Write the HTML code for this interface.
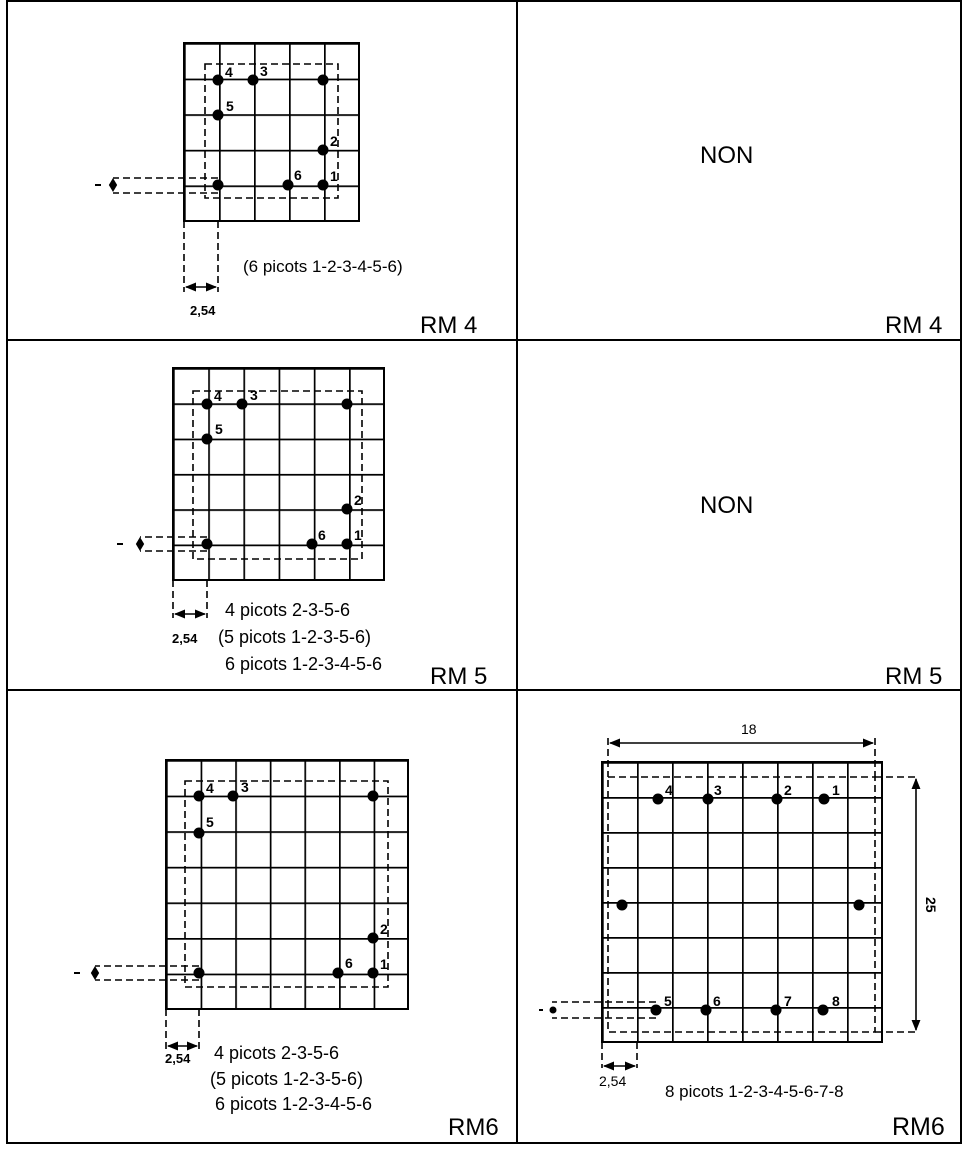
<!DOCTYPE html>
<html><head><meta charset="utf-8"><style>
html,body{margin:0;padding:0;background:#fff}
svg{display:block}
text{font-family:"Liberation Sans",sans-serif;fill:#000}
</style></head><body>
<svg width="962" height="1150" viewBox="0 0 962 1150" xmlns="http://www.w3.org/2000/svg">
<defs>
<pattern id="g1" x="184" y="43" width="35" height="35.6" patternUnits="userSpaceOnUse"><path d="M0 0H35M0 0V35.6" stroke="#000" stroke-width="3.4" fill="none"/></pattern>
<pattern id="g2" x="173" y="368" width="35.2" height="35.3" patternUnits="userSpaceOnUse"><path d="M0 0H35.2M0 0V35.3" stroke="#000" stroke-width="3.4" fill="none"/></pattern>
<pattern id="g3" x="166" y="760" width="34.6" height="35.6" patternUnits="userSpaceOnUse"><path d="M0 0H34.6M0 0V35.6" stroke="#000" stroke-width="3.4" fill="none"/></pattern>
<pattern id="g4" x="602" y="762" width="35" height="35" patternUnits="userSpaceOnUse"><path d="M0 0H35M0 0V35" stroke="#000" stroke-width="3.4" fill="none"/></pattern>
<marker id="a" viewBox="0 0 10 10" refX="9" refY="5" markerWidth="7" markerHeight="7" orient="auto-start-reverse"><path d="M0 1L10 5L0 9z" fill="#000"/></marker>
</defs>
<g stroke="#000" stroke-width="2" fill="none">
<rect x="7" y="1" width="954" height="1142"/>
<line x1="517" y1="1" x2="517" y2="1143"/>
<line x1="7" y1="340" x2="961" y2="340"/>
<line x1="7" y1="690" x2="961" y2="690"/>
</g>

<!-- Grid 1 -->
<rect x="184" y="43" width="175" height="178" fill="url(#g1)" stroke="#000" stroke-width="2"/>
<g stroke="#000" stroke-width="1.6" fill="none" stroke-dasharray="7,4">
<rect x="205" y="64" width="133" height="134"/>
<path d="M218 178H113M218 193H113"/>
<path d="M184 221V292M218 221V292"/>
</g>
<path d="M113 180L116 185L113 190L110 185z" fill="#000" stroke="#000" stroke-width="2"/>
<line x1="95" y1="185" x2="101" y2="185" stroke="#000" stroke-width="2"/>
<line x1="186" y1="287" x2="216" y2="287" stroke="#000" stroke-width="1.6" marker-start="url(#a)" marker-end="url(#a)"/>
<g fill="#000"><circle cx="218" cy="80" r="5.5"/><circle cx="253" cy="80" r="5.5"/><circle cx="323" cy="80" r="5.5"/><circle cx="218" cy="115" r="5.5"/><circle cx="323" cy="150" r="5.5"/><circle cx="323" cy="185" r="5.5"/><circle cx="288" cy="185" r="5.5"/><circle cx="218" cy="185" r="5.5"/></g>
<g font-size="14" font-weight="bold"><text x="225" y="77">4</text><text x="260" y="76">3</text><text x="226" y="111">5</text><text x="330" y="146">2</text><text x="294" y="180">6</text><text x="330" y="181">1</text></g>
<text x="190" y="315" font-size="13" font-weight="bold">2,54</text>
<text x="243" y="272" font-size="17">(6 picots 1-2-3-4-5-6)</text>
<text x="420" y="333" font-size="24">RM 4</text>

<text x="700" y="163" font-size="24">NON</text>
<text x="885" y="333" font-size="24">RM 4</text>

<!-- Grid 2 -->
<rect x="173" y="368" width="211" height="212" fill="url(#g2)" stroke="#000" stroke-width="2"/>
<g stroke="#000" stroke-width="1.6" fill="none" stroke-dasharray="7,4">
<rect x="193" y="391" width="169" height="168"/>
<path d="M207 537H140M207 551H140"/>
<path d="M173 580V618M207 580V618"/>
</g>
<path d="M140 539L143 544L140 549L137 544z" fill="#000" stroke="#000" stroke-width="2"/>
<line x1="117" y1="544" x2="123" y2="544" stroke="#000" stroke-width="2"/>
<line x1="175" y1="614" x2="205" y2="614" stroke="#000" stroke-width="1.6" marker-start="url(#a)" marker-end="url(#a)"/>
<g fill="#000"><circle cx="207" cy="404" r="5.5"/><circle cx="242" cy="404" r="5.5"/><circle cx="347" cy="404" r="5.5"/><circle cx="207" cy="439" r="5.5"/><circle cx="347" cy="509" r="5.5"/><circle cx="347" cy="544" r="5.5"/><circle cx="312" cy="544" r="5.5"/><circle cx="207" cy="544" r="5.5"/></g>
<g font-size="14" font-weight="bold"><text x="214" y="401">4</text><text x="250" y="400">3</text><text x="215" y="434">5</text><text x="354" y="505">2</text><text x="318" y="540">6</text><text x="354" y="540">1</text></g>
<text x="172" y="643" font-size="13" font-weight="bold">2,54</text>
<g font-size="18"><text x="225" y="616">4 picots 2-3-5-6</text><text x="218" y="643">(5 picots 1-2-3-5-6)</text><text x="225" y="670">6 picots 1-2-3-4-5-6</text></g>
<text x="430" y="684" font-size="24">RM 5</text>

<text x="700" y="513" font-size="24">NON</text>
<text x="885" y="684" font-size="24">RM 5</text>

<!-- Grid 3 -->
<rect x="166" y="760" width="242" height="249" fill="url(#g3)" stroke="#000" stroke-width="2"/>
<g stroke="#000" stroke-width="1.6" fill="none" stroke-dasharray="7,4">
<rect x="185" y="781" width="203" height="206"/>
<path d="M199 966H95M199 980H95"/>
<path d="M166 1009V1052M199 1009V1052"/>
</g>
<path d="M95 968L98 973L95 978L92 973z" fill="#000" stroke="#000" stroke-width="2"/>
<line x1="74" y1="973" x2="80" y2="973" stroke="#000" stroke-width="2"/>
<line x1="168" y1="1046" x2="197" y2="1046" stroke="#000" stroke-width="1.6" marker-start="url(#a)" marker-end="url(#a)"/>
<g fill="#000"><circle cx="199" cy="796" r="5.5"/><circle cx="233" cy="796" r="5.5"/><circle cx="373" cy="796" r="5.5"/><circle cx="199" cy="833" r="5.5"/><circle cx="373" cy="938" r="5.5"/><circle cx="373" cy="973" r="5.5"/><circle cx="338" cy="973" r="5.5"/><circle cx="199" cy="973" r="5.5"/></g>
<g font-size="14" font-weight="bold"><text x="206" y="793">4</text><text x="241" y="792">3</text><text x="206" y="827">5</text><text x="380" y="934">2</text><text x="345" y="968">6</text><text x="380" y="969">1</text></g>
<text x="165" y="1063" font-size="13" font-weight="bold">2,54</text>
<g font-size="18"><text x="214" y="1059">4 picots 2-3-5-6</text><text x="210" y="1085">(5 picots 1-2-3-5-6)</text><text x="215" y="1110">6 picots 1-2-3-4-5-6</text></g>
<text x="448" y="1135" font-size="24">RM6</text>

<!-- Grid 4 -->
<rect x="602" y="762" width="280" height="280" fill="url(#g4)" stroke="#000" stroke-width="2"/>
<g stroke="#000" stroke-width="1.6" fill="none" stroke-dasharray="7,4">
<rect x="608" y="777" width="267" height="255"/>
<path d="M656 1002H552M656 1018H552"/>
<path d="M602 1042V1068M637 1042V1068"/>
<path d="M608 738V777M875 738V777"/>
<path d="M875 777H916M875 1032H916"/>
</g>
<line x1="610" y1="743" x2="873" y2="743" stroke="#000" stroke-width="1.6" marker-start="url(#a)" marker-end="url(#a)"/>
<line x1="916" y1="779" x2="916" y2="1030" stroke="#000" stroke-width="1.6" marker-start="url(#a)" marker-end="url(#a)"/>
<line x1="604" y1="1066" x2="635" y2="1066" stroke="#000" stroke-width="1.6" marker-start="url(#a)" marker-end="url(#a)"/>
<circle cx="553" cy="1010" r="3.5" fill="#000"/>
<line x1="539" y1="1010" x2="543" y2="1010" stroke="#000" stroke-width="2"/>
<g fill="#000"><circle cx="658" cy="799" r="5.5"/><circle cx="708" cy="799" r="5.5"/><circle cx="777" cy="799" r="5.5"/><circle cx="824" cy="799" r="5.5"/><circle cx="622" cy="905" r="5.5"/><circle cx="859" cy="905" r="5.5"/><circle cx="656" cy="1010" r="5.5"/><circle cx="706" cy="1010" r="5.5"/><circle cx="776" cy="1010" r="5.5"/><circle cx="823" cy="1010" r="5.5"/></g>
<g font-size="14" font-weight="bold"><text x="665" y="795">4</text><text x="714" y="795">3</text><text x="784" y="795">2</text><text x="832" y="795">1</text><text x="664" y="1006">5</text><text x="713" y="1006">6</text><text x="784" y="1006">7</text><text x="832" y="1006">8</text></g>
<text x="741" y="734" font-size="14">18</text>
<text x="0" y="0" font-size="14" font-weight="bold" transform="translate(926,897) rotate(90)">25</text>
<text x="599" y="1086" font-size="14">2,54</text>
<text x="665" y="1097" font-size="17">8 picots 1-2-3-4-5-6-7-8</text>
<text x="892" y="1135" font-size="25">RM6</text>
</svg>
</body></html>
